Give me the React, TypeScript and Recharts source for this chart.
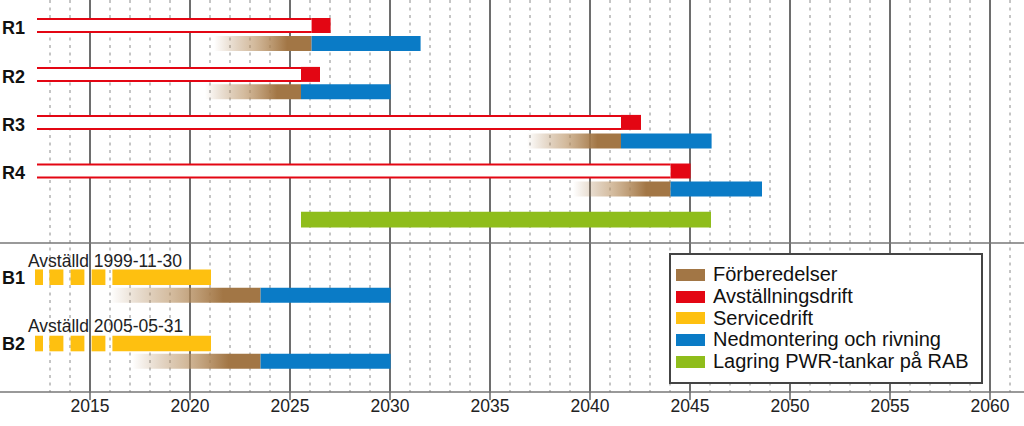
import React from 'react';
import {
  ComposedChart,
  XAxis,
  YAxis,
  CartesianGrid,
  ReferenceLine,
  ReferenceArea,
  Legend,
} from 'recharts';

const FONT = '"Liberation Sans", Arial, Helvetica, sans-serif';

const BROWN = '#a27645';
const RED = '#e30613';
const YELLOW = '#fec010';
const BLUE = '#0a7bc6';
const GREEN = '#8fbd1b';

// axis ticks and grid
const majorYears = [2015, 2020, 2025, 2030, 2035, 2040, 2045, 2050, 2055, 2060];
const minorYears = [
  2013, 2014, 2016, 2017, 2018, 2019, 2021, 2022, 2023, 2024, 2026, 2027, 2028, 2029,
  2031, 2032, 2033, 2034, 2036, 2037, 2038, 2039, 2041, 2042, 2043, 2044, 2046, 2047,
  2048, 2049, 2051, 2052, 2053, 2054, 2056, 2057, 2058, 2059, 2061,
];

// rows (lane = vertical position on hidden y axis, top to bottom)
const rowNames = ['R1', 'R2', 'R3', 'R4', 'B1', 'B2'];
const rowLane = [4.25, 12.4, 20.4, 28.5, 46.2, 57.25];
const prepLane = [7.25, 15.3, 23.5, 31.5, 49.2, 60.2];

// R units: drift (outlined) and avställningsdrift (red)
const driftStart = 2012.35;
const driftEnd = [2026.08, 2025.55, 2041.55, 2044.03];
const avstEnd = [2027.03, 2026.5, 2042.55, 2045.03];

// förberedelser + nedmontering och rivning (all rows)
const prepStart = [2021.2, 2020.75, 2036.85, 2039.15, 2016.0, 2017.1];
const prepEnd = [2026.08, 2025.55, 2041.55, 2044.03, 2023.53, 2023.53];
const rivEnd = [2031.53, 2030.03, 2046.08, 2048.6, 2030.03, 2030.03];

// lagring PWR-tankar
const storageLane = 36.6;
const storage = [2025.55, 2046.05];

// B units: servicedrift blocks
const serviceBlocks = [
  [2012.25, 2012.65],
  [2012.97, 2013.67],
  [2014.03, 2014.72],
  [2015.08, 2015.77],
  [2016.12, 2021.05],
];
const serviceLabels = ['Avställd 1999-11-30', 'Avställd 2005-05-31'];
const serviceLabelLane = [43.4, 54.3];

const separatorLane = 40.5;

const legendNames = [
  'Förberedelser',
  'Avställningsdrift',
  'Servicedrift',
  'Nedmontering och rivning',
  'Lagring PWR-tankar på RAB',
];
const legendColors = [BROWN, RED, YELLOW, BLUE, GREEN];

const H = 1.25;
const EDGE = 1.083;

const LegendBox = () => (
  <div
    style={{
      boxSizing: 'border-box',
      width: 314,
      height: 131,
      border: '2px solid #444',
      background: '#fff',
      padding: '9px 0 0 5px',
      fontFamily: FONT,
      fontSize: 20,
      color: '#111',
    }}
  >
    {legendNames.map((name, i) => (
      <div key={name} style={{ display: 'flex', alignItems: 'center', height: 21.7 }}>
        <span
          style={{
            display: 'inline-block',
            width: 29,
            height: 12,
            background: legendColors[i],
            marginRight: 8,
          }}
        />
        <span style={{ whiteSpace: 'nowrap' }}>{name}</span>
      </div>
    ))}
  </div>
);

export default function App() {
  return (
    <div style={{ width: 1024, height: 426, background: '#fff' }}>
      <style>{'body{margin:0}'}</style>
      <ComposedChart
        width={1024}
        height={426}
        data={[]}
        margin={{ top: 0, right: 0, bottom: 0, left: 0 }}
      >
        <defs>
          <linearGradient id="prepFade" x1="0" y1="0" x2="1" y2="0">
            <stop offset="0%" stopColor={BROWN} stopOpacity={0} />
            <stop offset="40%" stopColor="#b89060" stopOpacity={0.6} />
            <stop offset="75%" stopColor={BROWN} stopOpacity={1} />
            <stop offset="100%" stopColor={BROWN} stopOpacity={1} />
          </linearGradient>
        </defs>
        <CartesianGrid
          horizontal={false}
          verticalValues={minorYears}
          stroke="#8a8a8a"
          strokeWidth={1}
          strokeDasharray="3 4.5"
        />
        <CartesianGrid
          horizontal={false}
          verticalValues={majorYears}
          stroke="#6e6e6e"
          strokeWidth={2}
        />
        <XAxis
          type="number"
          dataKey="x"
          domain={[2010.5, 2061.7]}
          allowDataOverflow
          ticks={majorYears}
          interval={0}
          height={34}
          tickSize={8}
          tickMargin={0}
          axisLine={{ stroke: '#777', strokeWidth: 1.5 }}
          tickLine={{ stroke: '#666', strokeWidth: 1.5 }}
          tick={{ fill: '#222', fontSize: 17.5, fontFamily: FONT }}
        />
        <YAxis type="number" domain={[0, 65.33]} reversed hide allowDataOverflow />

        <ReferenceLine y={separatorLane} stroke="#777" strokeWidth={1.5} />

        {/* R units: drift drawn as white band between two red lines */}
        {driftEnd.map((end, i) => (
          <ReferenceArea
            key={`d${i}`}
            x1={driftStart}
            x2={end}
            y1={rowLane[i] - EDGE}
            y2={rowLane[i] + EDGE}
            fill="#fff"
            fillOpacity={1}
            stroke="none"
          />
        ))}
        {avstEnd.map((end, i) => (
          <ReferenceArea
            key={`a${i}`}
            x1={driftEnd[i]}
            x2={end}
            y1={rowLane[i] - H}
            y2={rowLane[i] + H}
            fill={RED}
            fillOpacity={1}
          />
        ))}

        {/* B units servicedrift */}
        {serviceLabels.map((_, r) =>
          serviceBlocks.map(([s, e], j) => (
            <ReferenceArea
              key={`s${r}-${j}`}
              x1={s}
              x2={e}
              y1={rowLane[4 + r] - 1.3}
              y2={rowLane[4 + r] + 1.3}
              fill={YELLOW}
              fillOpacity={1}
            />
          ))
        )}

        {/* förberedelser + rivning */}
        {prepStart.map((s, i) => (
          <ReferenceArea
            key={`p${i}`}
            x1={s}
            x2={prepEnd[i]}
            y1={prepLane[i] - H}
            y2={prepLane[i] + H}
            fill="url(#prepFade)"
            fillOpacity={1}
          />
        ))}
        {rivEnd.map((e, i) => (
          <ReferenceArea
            key={`n${i}`}
            x1={prepEnd[i]}
            x2={e}
            y1={prepLane[i] - H}
            y2={prepLane[i] + H}
            fill={BLUE}
            fillOpacity={1}
          />
        ))}

        <ReferenceArea
          x1={storage[0]}
          x2={storage[1]}
          y1={storageLane - 1.3}
          y2={storageLane + 1.3}
          fill={GREEN}
          fillOpacity={1}
        />

        {driftEnd.map((end, i) =>
          [-EDGE, EDGE].map((d) => (
            <ReferenceLine
              key={`e${i}${d}`}
              segment={[
                { x: driftStart, y: rowLane[i] + d },
                { x: end, y: rowLane[i] + d },
              ]}
              stroke={RED}
              strokeWidth={2}
            />
          ))
        )}

        {/* labels */}
        {rowNames.map((name, i) => (
          <ReferenceLine
            key={`l${name}`}
            y={rowLane[i] + (i < 4 ? 0.3 : 0)}
            stroke="none"
            label={{
              value: name,
              position: 'insideLeft',
              offset: 2,
              fill: '#111',
              fontSize: 18,
              fontWeight: 'bold',
              fontFamily: FONT,
            }}
          />
        ))}
        {serviceLabels.map((txt, i) => (
          <ReferenceLine
            key={`t${i}`}
            y={serviceLabelLane[i]}
            stroke="none"
            label={{
              value: txt,
              position: 'insideLeft',
              offset: 28,
              fill: '#222',
              fontSize: 17.5,
              fontFamily: FONT,
            }}
          />
        ))}

        <Legend
          layout="horizontal"
          verticalAlign="middle"
          align="center"
          content={() => <LegendBox />}
          wrapperStyle={{ left: 669, top: 253, width: 314, height: 131 }}
        />
      </ComposedChart>
    </div>
  );
}
